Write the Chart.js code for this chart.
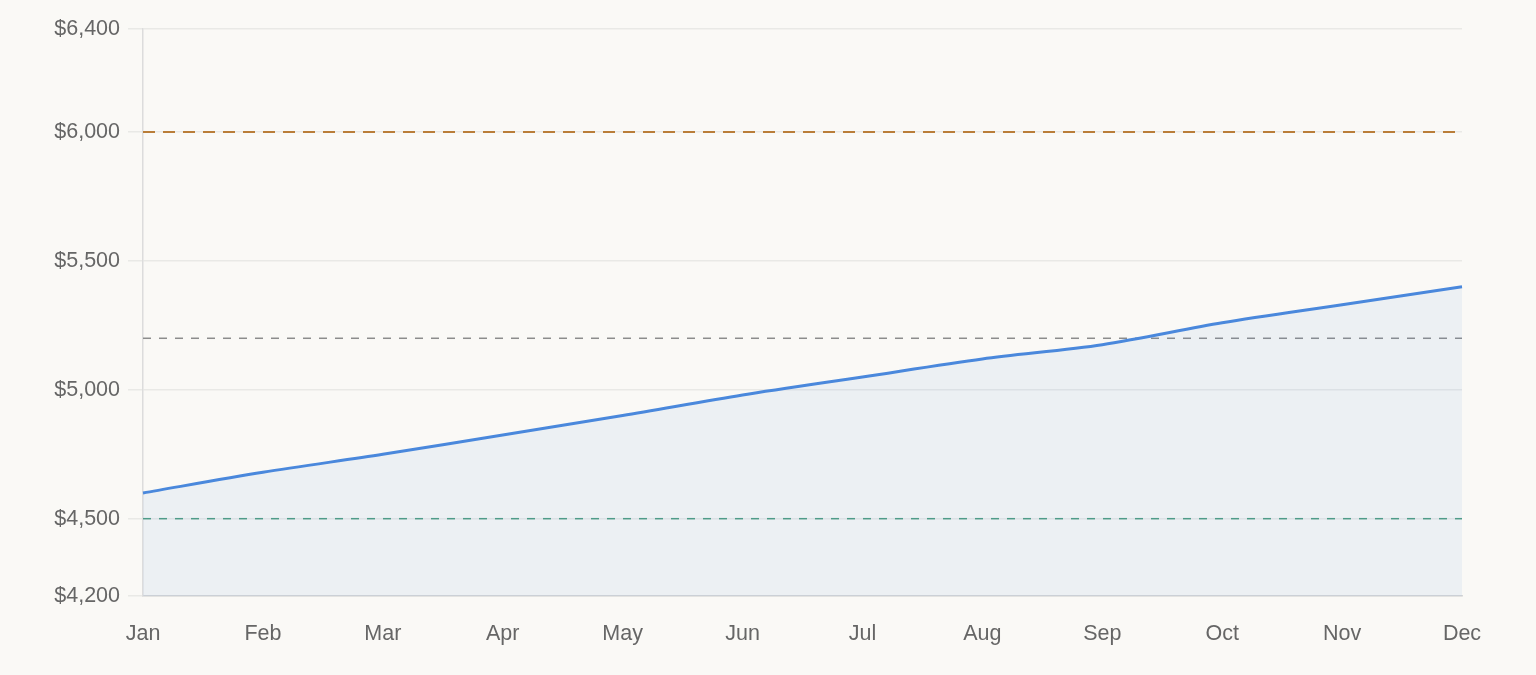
<!DOCTYPE html>
<html>
<head>
<meta charset="utf-8">
<script src="https://cdn.jsdelivr.net/npm/chart.js@4/dist/chart.umd.min.js"></script>
<style>
  html, body { margin: 0; padding: 0; background: #faf9f6; }
  #wrap { width: 1536px; height: 675px; position: relative; }
</style>
</head>
<body>
<div id="wrap"><canvas id="chart"></canvas></div>
<script>
const months = ["Jan", "Feb", "Mar", "Apr", "May", "Jun", "Jul", "Aug", "Sep", "Oct", "Nov", "Dec"];
const balance = [4600, 4680, 4750, 4825, 4900, 4980, 5050, 5120, 5175, 5260, 5330, 5400];
const yTicks = [4200, 4500, 5000, 5500, 6000, 6400];

// reference levels: value, colour, width, dash
const refLines = [
  { value: 6000, color: "#b97d38", width: 2, dash: [12, 8] },
  { value: 5200, color: "#8c8c8c", width: 1.5, dash: [8, 8] },
  { value: 4500, color: "#4f9d82", width: 1.5, dash: [8, 8] }
];

const refLinePlugin = {
  id: "refLines",
  beforeDatasetsDraw(chart) {
    const { ctx, chartArea, scales } = chart;
    refLines.forEach((line) => {
      const y = scales.y.getPixelForValue(line.value);
      ctx.save();
      ctx.strokeStyle = line.color;
      ctx.lineWidth = line.width;
      ctx.setLineDash(line.dash);
      ctx.beginPath();
      ctx.moveTo(chartArea.left, y);
      ctx.lineTo(chartArea.right, y);
      ctx.stroke();
      ctx.restore();
    });
  }
};

function formatMoney(value) {
  return "$" + new Intl.NumberFormat("en-US").format(value);
}

new Chart(document.getElementById("chart"), {
  type: "line",
  data: {
    labels: months,
    datasets: [
      {
        data: balance,
        borderColor: "#4a88dc",
        borderWidth: 3,
        backgroundColor: "rgba(74, 136, 220, 0.08)",
        fill: "start",
        tension: 0.3,
        pointRadius: 0
      }
    ]
  },
  options: {
    responsive: true,
    maintainAspectRatio: false,
    animation: false,
    layout: {
      padding: { left: 0, right: 74, top: 29, bottom: 0 }
    },
    plugins: {
      legend: { display: false },
      tooltip: { enabled: false }
    },
    scales: {
      x: {
        grid: { display: false },
        border: { color: "#d6d6d6", width: 1.5 },
        ticks: {
          color: "#666",
          font: { family: "Liberation Sans, Arial, sans-serif", size: 21.5 },
          padding: 17,
          maxRotation: 0
        },
        afterFit: (scale) => { scale.height = 79; }
      },
      y: {
        min: 4200,
        max: 6400,
        afterBuildTicks: (scale) => {
          scale.ticks = yTicks.map((value) => ({ value }));
        },
        grid: { color: "#e9e9e6", lineWidth: 1.5, tickLength: 15 },
        border: { color: "#dcdcdc", width: 1.5 },
        ticks: {
          color: "#666",
          font: { family: "Liberation Sans, Arial, sans-serif", size: 21.5 },
          padding: 8,
          callback: (value) => formatMoney(value)
        },
        afterFit: (scale) => { scale.width = 143; }
      }
    }
  },
  plugins: [refLinePlugin]
});
</script>
</body>
</html>
